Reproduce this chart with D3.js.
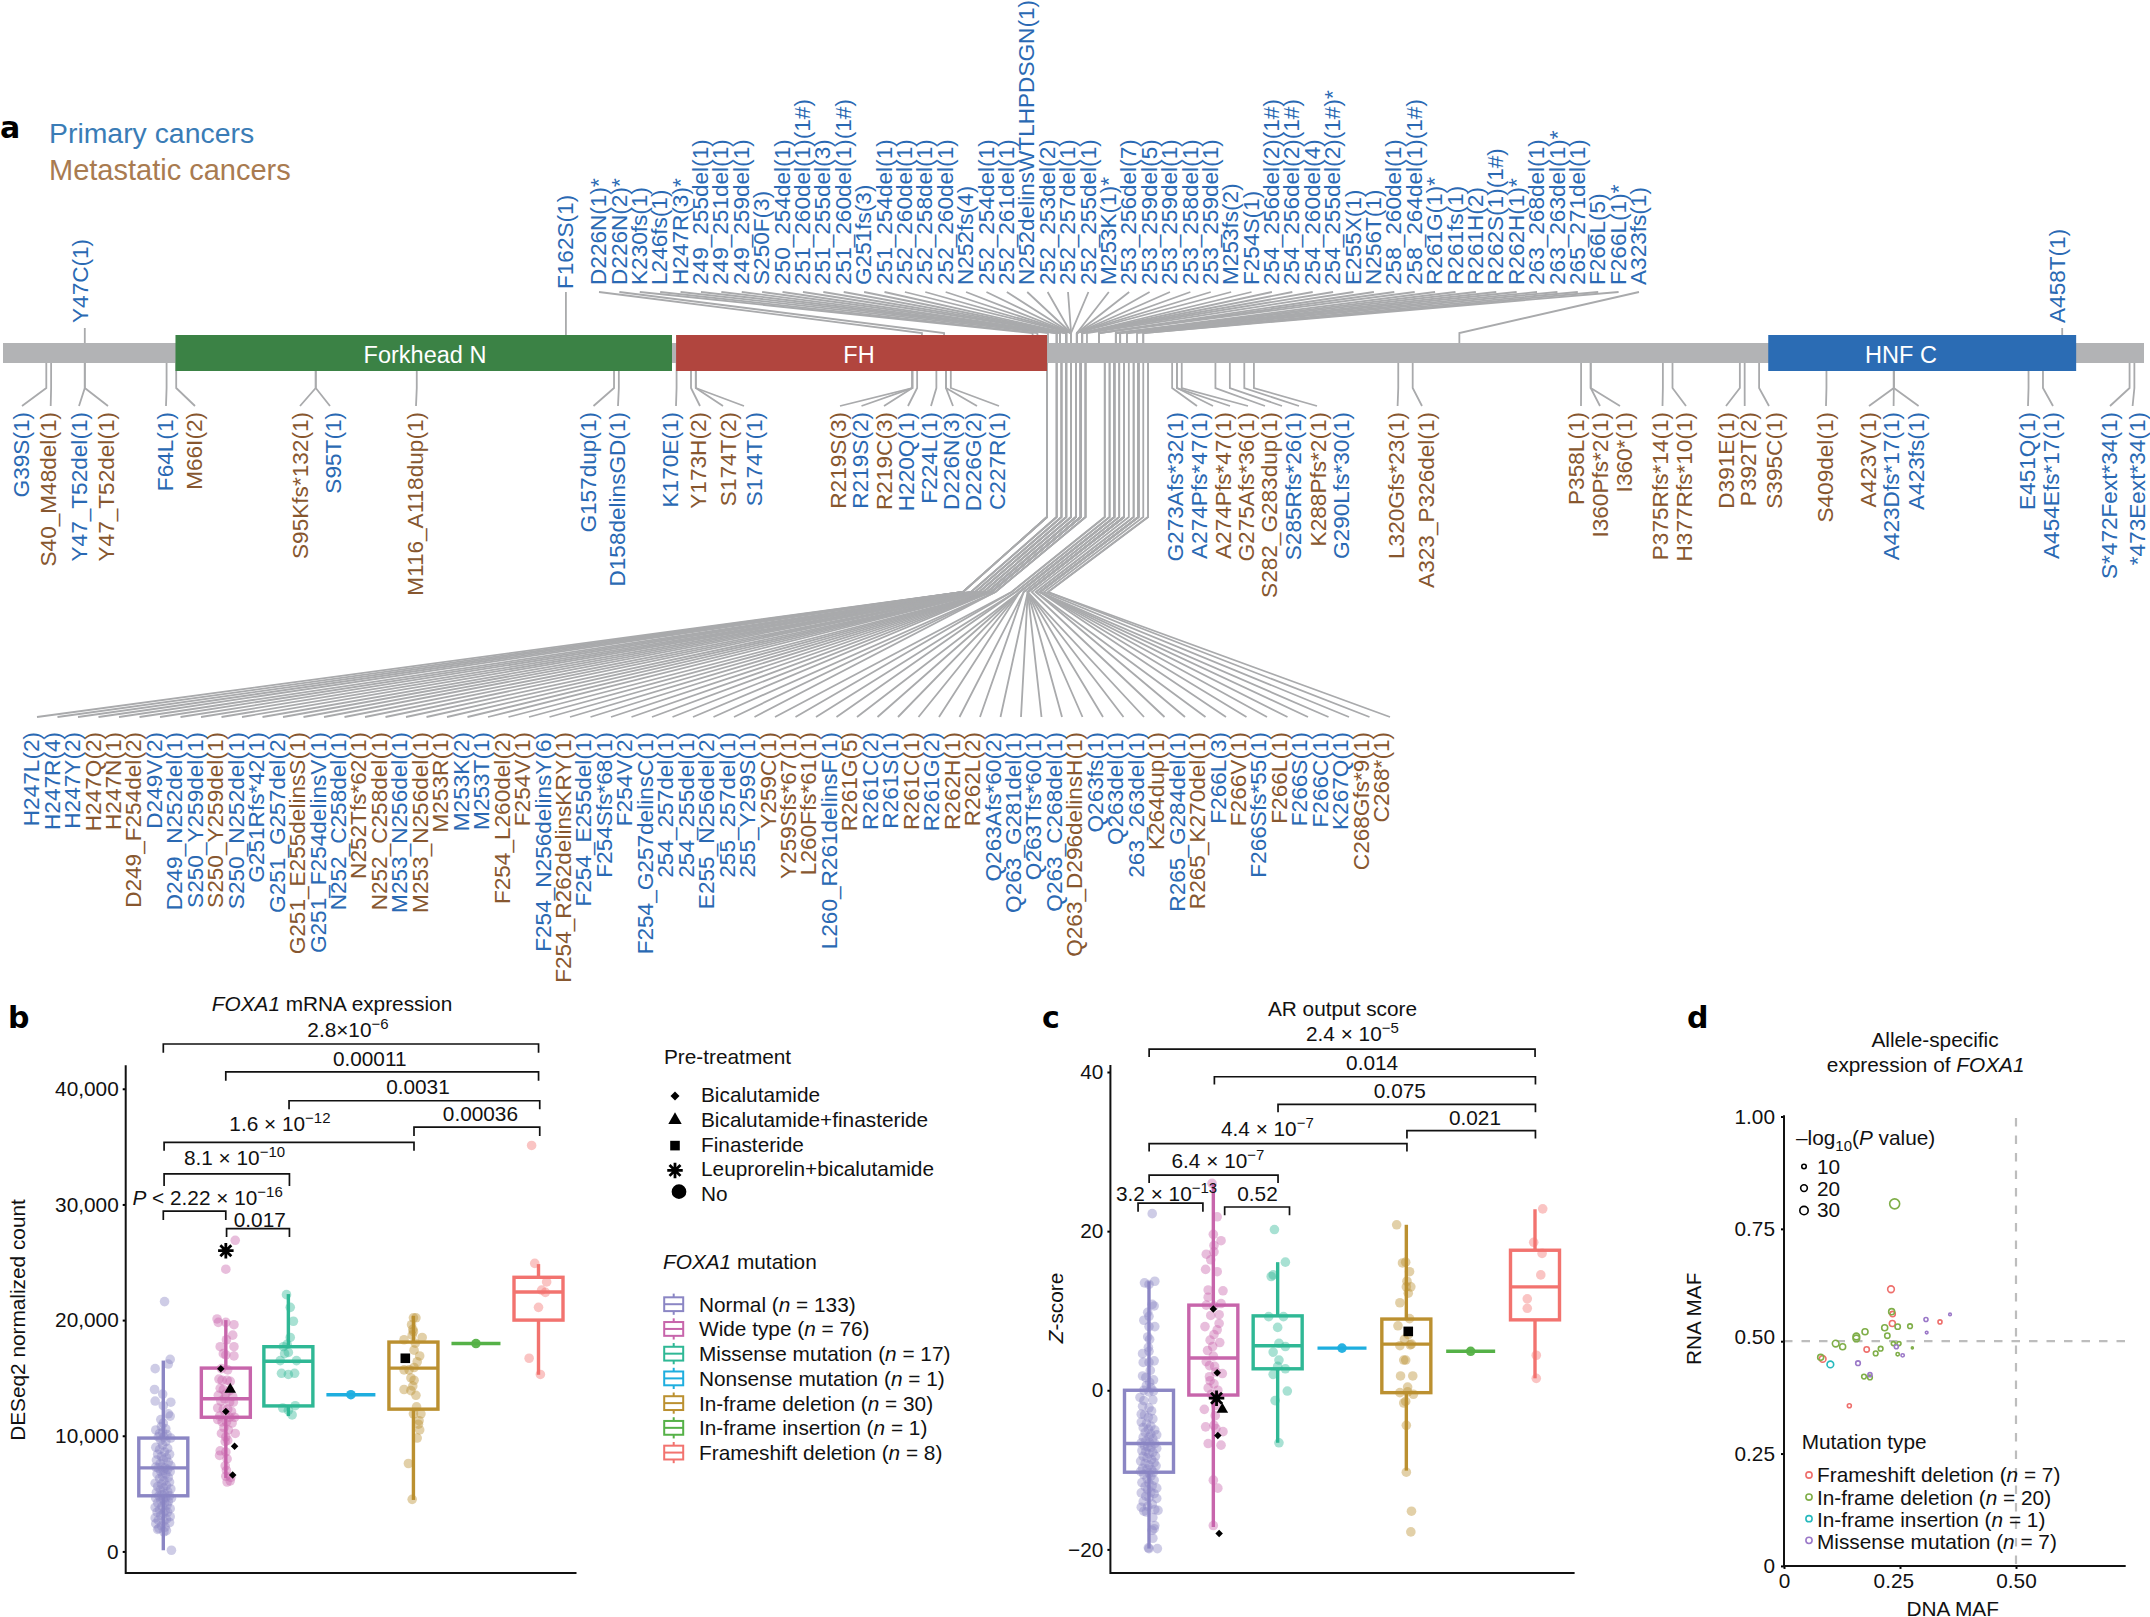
<!DOCTYPE html>
<html><head><meta charset="utf-8">
<script src="https://cdn.jsdelivr.net/npm/d3@7"></script>
<style>
html,body{margin:0;padding:0;background:#fff}
svg{display:block}
text{font-family:"Liberation Sans",Arial,sans-serif;fill:#111}
</style></head><body>
<svg id="c" width="2150" height="1617"></svg>
<script>
// ---------- DATA ----------
// Panel a: mutation name, cohort (p primary / m metastatic), drawn residue on the protein track
const topNames=["D226N(1)*","D226N(2)*","K230fs(1)","L246fs(1)","H247R(3)*","249_255del(1)","249_251del(1)","249_259del(1)","S250F(3)","250_254del(1)","251_260del(1)(1#)","251_255del(3)","251_260del(1)(1#)","G251fs(3)","251_254del(1)","252_260del(1)","252_258del(1)","252_260del(1)","N252fs(4)","252_254del(1)","252_261del(1)","N252delinsWTLHPDSGN(1)","252_253del(2)","252_257del(1)","252_255del(1)","M253K(1)*","253_256del(7)","253_259del(5)","253_259del(1)","253_258del(1)","253_259del(1)","M253fs(2)","F254S(1)","254_256del(2)(1#)","254_256del(2)(1#)","254_260del(4)","254_255del(2)(1#)*","E255X(1)","N256T(1)","258_260del(1)","258_264del(1)(1#)","R261G(1)*","R261fs(1)","R261H(2)","R262S(1)(1#)","R262H(1)*","263_268del(1)","263_263del(1)*","265_271del(1)","F266L(5)","F266L(1)*","A323fs(1)"];
const topSites=[221,225.6,244,245,247.2,249,249,249,249.7,249.7,251,251,251,251,251,252,252,252,252,252,252,252,252,252,252,253.2,253.2,253.2,253.2,253.2,253.2,253.2,254.3,254.3,254.3,254.3,254.3,255.3,257.8,257.8,257.8,261.3,261.3,261.3,262.2,262.2,263.6,263.6,265.7,267,267,332.7];
const singleNames=["Y47C(1)","F162S(1)","A458T(1)"];
const singleSites=[47,147,458];
const sideNames=["G39S(1)","S40_M48del(1)","Y47_T52del(1)","Y47_T52del(1)","F64L(1)","M66I(2)","S95Kfs*132(1)","S95T(1)","M116_A118dup(1)","G157dup(1)","D158delinsGD(1)","K170E(1)","Y173H(2)","S174T(2)","S174T(1)","R219S(3)","R219S(2)","R219C(3)","H220Q(1)","F224L(1)","D226N(3)","D226G(2)","C227R(1)","G273Afs*32(1)","A274Pfs*47(1)","A274Pfs*47(1)","G275Afs*36(1)","S282_G283dup(1)","S285Rfs*26(1)","K288Pfs*2(1)","G290Lfs*30(1)","L320Gfs*23(1)","A323_P326del(1)","P358L(1)","I360Pfs*2(1)","I360*(1)","P375Rfs*14(1)","H377Rfs*10(1)","D391E(1)","P392T(2)","S395C(1)","S409del(1)","A423V(1)","A423Dfs*17(1)","A423fs(1)","E451Q(1)","A454Efs*17(1)","S*472Fext*34(1)","*473Eext*34(1)"];
const sideCohort=("pmpmpmmpmp"+"ppmmpmpmpp"+"pppppmmmpm"+"pmmmmmmmmm"+"mmmpppppp").split("");
const sideSites=[39,40,47,47,64,66,95,95,116,157,158,170,173,174,174,219,219,219,220,224,226,226,227,273,274,274,275,282,285,288,290,320,323,358,360,360,375,377,391,392,395,409,423,423,423,451,454,472,473];
const fanNames=["H247L(2)","H247R(4)","H247Y(2)","H247Q(2)","H247N(1)","D249_F254del(2)","D249V(2)","D249_N252del(1)","S250_Y259del(1)","S250_Y259del(1)","S250_N252del(1)","G251Rfs*42(1)","G251_G257del(2)","G251_E255delinsS(1)","G251_F254delinsV(1)","N252_C258del(1)","N252Tfs*62(1)","N252_C258del(1)","M253_N256del(1)","M253_N256del(1)","M253R(1)","M253K(2)","M253T(1)","F254_L260del(2)","F254V(1)","F254_N256delinsY(6)","F254_R262delinsKRY(1)","F254_E255del(1)","F254Sfs*68(1)","F254V(2)","F254_G257delinsC(1)","254_257del(1)","254_255del(1)","E255_N256del(2)","255_257del(1)","255_Y259S(1)","Y259C(1)","Y259Sfs*67(1)","L260Ffs*61(1)","L260_R261delinsF(1)","R261G(5)","R261C(2)","R261S(1)","R261C(1)","R261G(2)","R262H(1)","R262L(2)","Q263Afs*60(2)","Q263_G281del(1)","Q263Tfs*60(1)","Q263_C268del(1)","Q263_D296delinsH(1)","Q263fs(1)","Q263del(1)","263_263del(1)","K264dup(1)","R265_G284del(1)","R265_K270del(1)","F266L(3)","F266V(1)","F266Sfs*55(1)","F266L(1)","F266S(1)","F266C(1)","K267Q(1)","C268Gfs*9(1)","C268*(1)"];
const fanCohort=("pppmmmpppm"+"pppmppmmpm"+"mppmmpmppp"+"ppppppmmmp"+"mppmpmmppp"+"pmpppmpmpm"+"pmpppmm").split("");
const fanSites=[247,247,247,247,247,249,249,249,250,250,250,251,251,251,251,252,252,252,253,253,253,253,253,254,254,254,254,254,254,254,254,254,254,255,255,255,259,259,260,260,261,261,261,261,261,262,262,263,263,263,263,263,263,263,263,264,265,265,266,266,266,266,266,266,267,268,268];
const domainNames=["Forkhead N","FH","HNF C"];
const domainStart=[65.85,169.9,396.9];
const domainEnd=[169.05,247,460.9];

// Panels b, c
const mutCats=["Normal","Wide type","Missense mutation","Nonsense mutation","In-frame deletion","In-frame insertion","Frameshift deletion"];
const mutN=[133,76,17,1,30,1,8];
const bLow=[0.1,6.35,11.7,13.55,4.45,17.97,15.27];
const bQ1=[4.81,11.6,12.58,13.55,12.3,17.97,20.0];
const bMed=[7.22,13.2,16.44,13.55,15.85,17.97,22.43];
const bQ3=[9.8,15.85,17.7,13.55,18.1,17.97,23.7];
const bHigh=[16.5,20.0,22.25,13.55,20.37,17.97,24.84];
const cLow=[-19.9,-17.2,-6.6,5.3,-10.1,4.9,1.5];
const cQ1=[-10.3,-0.6,2.7,5.3,-0.3,4.9,8.85];
const cMed=[-6.7,4.05,5.6,5.3,5.8,4.9,13.0];
const cQ3=[0,10.7,9.35,5.3,8.95,4.9,17.6];
const cHigh=[13.7,26,16.1,5.3,20.8,4.9,22.75];
// each sample: [jitter in % of the category step, value]
const bNormal=[[2,21.6],[11,16.6],[8,16.2],[-13,15.8],[-14,14.0],[-1,13.6],[-13,13.0],[12,12.9],[0,12.6],[8,11.9],[11,11.7],[-4,11.4],[0,11.1],[-3,10.8],[-12,10.5],[4,10.6],[-6,10.2],[-1,10.3],[6,10.1],[-8,9.9],[1,9.9],[12,9.8],[-4,9.6],[4,9.5],[-1,9.2],[-12,9.0],[7,8.9],[-6,8.8],[2,8.6],[-9,8.4],[10,8.4],[-3,8.2],[5,8.1],[-11,7.9],[0,7.9],[8,7.7],[-5,7.6],[12,7.4],[-12,7.3],[-2,7.3],[3,7.2],[-8,7.2],[7,7.1],[0,7.0],[-4,6.9],[11,6.9],[-10,6.7],[4,6.7],[-1,6.5],[8,6.4],[-6,6.3],[1,6.1],[10,6.0],[-13,5.9],[-3,5.8],[5,5.7],[-9,5.6],[0,5.5],[12,5.4],[-5,5.3],[7,5.2],[-11,5.1],[2,5.0],[-2,4.9],[10,4.8],[-7,4.8],[4,4.7],[-12,4.6],[0,4.5],[13,4.6],[-4,4.4],[8,4.3],[-9,4.2],[2,4.2],[6,4.0],[-2,3.9],[-13,3.8],[11,3.7],[-6,3.6],[3,3.5],[-10,3.4],[7,3.4],[0,3.3],[-4,3.1],[11,3.0],[-13,2.9],[5,2.8],[-8,2.7],[1,2.6],[10,2.5],[-12,2.4],[-3,2.2],[3,2.1],[-7,2.0],[1,1.7],[-9,1.9],[5,1.8],[13,0.1]];
const bWild=[[15,26.9],[0,24.4],[-14,20.1],[-12,19.8],[0,19.8],[13,19.6],[11,18.7],[-9,17.7],[1,18.3],[13,17.7],[-4,17.1],[13,16.9],[0,17.0],[-7,15.8],[3,15.7],[-11,14.9],[-6,14.8],[2,14.8],[7,14.7],[-9,14.1],[-4,14.0],[6,13.9],[-12,13.5],[0,13.6],[11,13.4],[-8,13.0],[-2,13.2],[6,12.9],[12,12.9],[-13,12.4],[-4,12.3],[3,12.3],[9,12.1],[-10,11.7],[-1,11.8],[6,11.6],[14,11.6],[-13,11.4],[-6,11.2],[1,11.2],[10,11.1],[-3,10.7],[4,10.5],[-7,10.2],[0,9.9],[15,10.2],[-1,9.5],[3,9.6],[-9,8.7],[-10,8.3],[0,8.6],[2,8.0],[-1,7.4],[1,7.0],[0,6.5],[8,6.4],[7,6.1],[2,6.0]];
const bMissense=[[-3,22.2],[3,21.1],[8,19.9],[3,18.5],[-8,17.7],[-2,17.9],[0,17.2],[-6,17.1],[-13,16.5],[13,16.5],[-11,15.4],[0,15.3],[10,15.4],[11,12.6],[-9,12.4],[0,12.2],[6,11.8]];
const bNonsense=[[0,13.55]];
const bDeletion=[[0,20.2],[4,20.2],[-3,19.6],[0,19.0],[-1,19.2],[14,18.5],[-15,18.3],[1,17.4],[10,16.9],[6,16.4],[-15,15.7],[1,15.9],[-7,15.7],[1,14.8],[-15,14.0],[-4,13.9],[4,13.5],[12,11.9],[0,11.9],[9,11.3],[8,11.0],[10,10.5],[6,9.8],[-8,7.6],[-2,4.5],[-2,18.7],[3,18.0],[-4,15.0],[-1,14.3],[5,12.5]];
const bInsertion=[[0,17.97]];
const bFrameshift=[[-11,35.1],[-6,24.9],[13,23.3],[5,22.6],[11,22.4],[0,21.1],[-15,16.7],[3,15.3]];
const cNormal=[[5,22.2],[9,13.7],[-7,13.5],[0,13.3],[5,10.8],[8,10.6],[-2,9.8],[0,9.3],[-8,8.8],[9,8.0],[0,8.0],[-2,6.7],[1,6.4],[-1,5.4],[-10,4.6],[0,4.9],[8,3.7],[-9,3.5],[0,3.5],[2,2.5],[-10,1.8],[-5,1.6],[7,1.3],[1,1.0],[-4,0.6],[3,0.3],[-8,0.0],[0,-0.2],[7,-0.1],[-14,-0.9],[-8,-1.3],[6,-1.2],[-10,-2.0],[0,-2.2],[4,-2.6],[-12,-3.0],[-7,-3.1],[-1,-3.4],[6,-3.6],[-12,-4.0],[-4,-4.2],[3,-4.5],[-9,-4.7],[-1,-4.9],[9,-5.0],[-6,-5.3],[3,-5.5],[12,-5.6],[-9,-5.9],[0,-5.9],[6,-6.1],[-5,-6.4],[-12,-6.6],[1,-6.6],[9,-6.7],[-7,-7.0],[-2,-7.1],[3,-7.2],[12,-7.3],[-11,-7.6],[-5,-7.7],[6,-7.8],[0,-8.0],[-9,-8.3],[10,-8.3],[-3,-8.5],[4,-8.7],[-13,-8.9],[8,-9.1],[-6,-9.2],[0,-9.4],[11,-9.5],[-10,-9.8],[-3,-9.9],[4,-10.0],[-13,-10.2],[7,-10.3],[0,-10.4],[-8,-10.6],[3,-10.8],[-3,-11.1],[8,-11.3],[-11,-11.6],[0,-11.7],[5,-12.0],[-6,-12.1],[12,-12.3],[-2,-12.5],[3,-12.8],[-12,-12.9],[8,-13.0],[-5,-13.3],[0,-13.5],[12,-13.6],[-9,-14.0],[5,-14.3],[-2,-14.6],[-12,-14.7],[9,-15.0],[-8,-15.2],[14,-15.1],[-4,-15.3],[6,-16.0],[9,-17.0],[5,-17.6],[8,-17.4],[6,-18.6],[0,-19.9],[13,-19.9],[-1,-19.8]];
const cWild=[[-2,26.0],[6,21.8],[0,19.6],[12,18.8],[1,18.2],[-11,17.1],[1,17.4],[-4,16.4],[-12,15.2],[6,14.9],[-8,12.6],[15,12.5],[-8,11.7],[-11,10.7],[12,10.9],[1,10.6],[9,9.5],[9,8.4],[-13,8.0],[1,7.0],[-5,6.3],[10,6.0],[-1,5.5],[0,4.3],[-11,3.6],[-6,3.1],[4,2.3],[-6,1.7],[14,2.1],[1,0.8],[-8,0.3],[-14,-2.4],[4,-1.9],[-12,-4.6],[1,-4.4],[15,-5.2],[4,-4.8],[-8,-6.7],[12,-6.9],[0,-11.3],[7,-12.3],[0,-17],[-4,9.4],[6,7.6],[-9,5.0],[7,0.0],[-3,-0.5],[3,-3.2],[-5,1.2],[2,3.0]];
const cMissense=[[-5,20.2],[12,16.1],[-7,14.5],[-10,14.3],[-14,9.25],[9,9.25],[0,7.9],[2,5.9],[12,5.5],[-7,4.8],[2,3.8],[0,3.0],[12,2.7],[-7,2.0],[15,-0.1],[-4,-1.3],[2,-6.6]];
const cNonsense=[[0,5.3]];
const cDeletion=[[-15,20.8],[-6,16.0],[-1,16.1],[5,14.9],[1,13.7],[7,13.0],[-10,11.0],[5,9.0],[-13,8.1],[3,7.0],[-10,5.6],[8,5.8],[-4,3.8],[-1,3.8],[-9,1.8],[10,1.8],[2,0.4],[-10,-0.3],[11,-0.5],[-4,-1.6],[-1,-1.4],[0,-4.4],[0,-10.3],[8,-15.2],[7,-17.8],[3,12.2],[0,13.0],[-3,6.4],[6,5.7],[2,-0.2]];
const cInsertion=[[0,4.9]];
const cFrameshift=[[12,22.8],[-2,18.6],[11,17.2],[9,14.5],[-12,11.5],[-12,10.3],[2,4.4],[2,1.5]];
// pre-treatment samples: [category index, jitter %, value, treatment]
const treatNames=["Bicalutamide","Bicalutamide+finasteride","Finasteride","Leuprorelin+bicalutamide","No"];
const bTreated=[[1,-8,15.8,0],[1,0,12.1,0],[1,14,9.1,0],[1,11,6.6,0],[1,7,14.0,1],[1,0,26.0,3],[4,-13,16.7,2]];
const cTreated=[[1,0,10.2,0],[1,6,2.2,0],[1,7,-5.7,0],[1,9,-18,0],[1,5,-1,3],[1,14,-2.4,1],[4,3,7.4,2]];
const bBracketText=["2.8×10^{−6}","0.00011","0.0031","0.00036","1.6 × 10^{−12}","8.1 × 10^{−10}","<i>P</i> < 2.22 × 10^{−16}","0.017"];
const cBracketText=["2.4 × 10^{−5}","0.014","0.075","0.021","4.4 × 10^{−7}","6.4 × 10^{−7}","3.2 × 10^{−13}","0.52"];

// Panel d: DNA MAF, RNA MAF, -log10 P
const frameshiftD=[.2306,.2342,.2335,.3362,.1782,.0833,.1408];
const frameshiftR=[.6156,.5604,.5394,.5429,.4816,.4606,.3564];
const frameshiftP=[15.7,10,12.8,5.7,10,15.7,5.7];
const deletionD=[.2385,.232,.245,.217,.2716,.2227,.1746,.1559,.1559,.1114,.1264,.2356,.2478,.2083,.1976,.245,.2766,.079,.1724,.1853];
const deletionR=[.8056,.5657,.5324,.5298,.5333,.5123,.521,.5105,.5061,.4947,.4877,.4947,.4947,.4834,.4729,.4711,.4851,.4641,.4212,.4194];
const deletionP=[35.4,12.8,10,12.8,7.7,10,12.8,15.7,15.7,15.7,12.8,5.7,5.7,7.7,7.7,4,1.4,12.8,7.7,7.7];
const insertionD=[.0999];const insertionR=[.4483];const insertionP=[15.7];
const missenseD=[.306,.3578,.3075,.2421,.2557,.1595,.1853];
const missenseR=[.5482,.5595,.5193,.4877,.4685,.451,.4256];
const missenseP=[5.7,2.5,2.5,5.7,4,7.7,5.7];
const dTypes=["Frameshift deletion","In-frame deletion","In-frame insertion","Missense mutation"];
const dCounts=[7,20,1,7];
const sizeLegend=[10,20,30];

// ---------- LAYOUT ----------
const BLUE="#2a69b3",BROWN="#87572f",LINE="#a9aaac",FS=20.8;
const sideLabelPx=[20.5,48,79,106,164.5,194,300,333,415,588,617,670,698,728,754,838,860,884,906,929,951,973,997,1175,1199,1223,1246,1269,1293,1318,1341,1396,1425.5,1576,1600,1624,1660,1684,1726,1748,1774,1825,1868,1891,1916,2027,2051,2109,2137];
const sideTipPx=[22,50.7,79,108,166,195,300,330,416,593.5,618,676,700,723,744,840,861.5,884,908,931,953,977,999,1197,1213,1230,1248,1265,1282,1299,1317,1397.6,1422,1581,1600,1620,1662.5,1686,1726,1744.7,1769,1826,1869,1893.6,1918.6,2028,2053,2110,2132.6];
const singleLabelPx=[80,565,2057];
const singleBase=[323,289,323];
const singleTop=[328,292,328];

const svg=d3.select("#c");
function rich(sel,s){
  const re=/<i>(.*?)<\/i>|\^\{(.*?)\}|_\{(.*?)\}|[^<^_]+|[<^_]/g;let m,shift=0;
  while((m=re.exec(s))){
    const t=sel.append("tspan");let dy=-shift;shift=0;
    if(m[1]!==undefined){t.text(m[1]).style("font-style","italic");}
    else if(m[2]!==undefined){t.text(m[2]).style("font-size","0.72em");shift=-8;dy+=-8;}
    else if(m[3]!==undefined){t.text(m[3]).style("font-size","0.72em");shift=6;dy+=6;}
    else t.text(m[0]);
    if(dy)t.attr("dy",dy);
  }
}
function label(x,y,s,o={}){
  const t=svg.append("text").attr("x",x).attr("y",y).style("font-size",(o.size||FS)+"px")
    .attr("text-anchor",o.anchor||"start");
  if(o.bold)t.style("font-weight","bold").style("font-family",'"DejaVu Sans",sans-serif');
  if(o.fill)t.style("fill",o.fill);
  if(o.rot)t.attr("transform",`rotate(-90 ${x} ${y})`);
  rich(t,s);return t;
}

// ---------- PANEL a ----------
const track=d3.scaleLinear().domain([30,475]).range([3,2144]);
const tg=svg.append("g").attr("fill","none").attr("stroke",LINE).attr("stroke-width",1.8);
const path=pts=>d3.line()(pts);
const vlabel=(x,y,s,col,anchor)=>svg.append("text").attr("transform",`translate(${x},${y}) rotate(-90)`)
  .attr("dy",".36em").attr("text-anchor",anchor).style("font-size","22.6px").style("fill",col).text(s);

// top leaders
const topLab=d3.scaleLinear().domain([0,topNames.length-1]).range([598,1638]);
topNames.forEach((n,i)=>{
  const sx=track(topSites[i]);
  tg.append("path").attr("d",path([[topLab(i)+1,292],[sx,333],[sx,350]]));
  vlabel(topLab(i),285,n,BLUE,"start");
});
singleNames.forEach((n,i)=>{
  const sx=track(singleSites[i]);
  tg.append("path").attr("d",path([[sx,singleTop[i]],[sx,350]]));
  vlabel(singleLabelPx[i],singleBase[i],n,BLUE,"start");
});
// bottom leaders next to the bar
sideNames.forEach((n,i)=>{
  const sx=track(sideSites[i]);
  tg.append("path").attr("d",path([[sx,355],[sx,388],[sideTipPx[i],406]]));
  vlabel(sideLabelPx[i],412,n,sideCohort[i]=="p"?BLUE:BROWN,"end");
});
// central fan
const fanLab=d3.scaleLinear().domain([0,fanNames.length-1]).range([31,1381]);
const fanTip=d3.scaleLinear().domain([0,fanNames.length-1]).range([37,1390]);
const fanHub=d3.scaleLinear().domain([247,268]).range([963,1048]);
fanNames.forEach((n,i)=>{
  const s=fanSites[i],sx=track(s);
  tg.append("path").attr("d",path([[sx,355],[sx,517],[fanHub(s),592],[fanTip(i),717]]));
  vlabel(fanLab(i),732,n,fanCohort[i]=="p"?BLUE:BROWN,"end");
});
// protein bar + domains
svg.append("rect").attr("x",track(30)).attr("y",343).attr("width",track(475)-track(30)).attr("height",20).attr("fill","#b2b3b5");
const domCol=["#3b8245","#b1453e","#2b6cb4"];
domainNames.forEach((n,i)=>{
  const a=track(domainStart[i]),b=track(domainEnd[i]);
  svg.append("rect").attr("x",a).attr("y",335).attr("width",b-a).attr("height",36).attr("fill",domCol[i]);
});
const domText=[425,859,1901];
domainNames.forEach((n,i)=>label(domText[i],363,n,{size:23.5,anchor:"middle",fill:"#fff"}));
label(49,143,"Primary cancers",{size:28.4,fill:"#3a7cb6"});
label(49,180,"Metastatic cancers",{size:29,fill:"#a97b50"});
label(0,138,"a",{size:30,bold:true,fill:"#000"});

// ---------- PANELS b / c ----------
const mutCol=["#8b86c4","#c765ab","#2fb895","#1eaedf","#bb9030","#55b147","#f2736f"];
const symAsterisk={draw(ctx,size){const r=Math.sqrt(size);
  for(let a=0;a<4;a++){const t=a*Math.PI/4,dx=r*Math.cos(t),dy=r*Math.sin(t);ctx.moveTo(-dx,-dy);ctx.lineTo(dx,dy);}}};
const symScale={0:[d3.symbolDiamond2,36,52],1:[d3.symbolTriangle,58,78],2:[d3.symbolSquare,92,92],4:[d3.symbolCircle,170,170]};
function mark(g,x,y,k,big){
  if(k==3){
    g.append("path").attr("d",d3.symbol().type(symAsterisk).size(60)()).attr("transform",`translate(${x},${y})`)
     .attr("fill","none").attr("stroke","#000").attr("stroke-width",2.8);
  } else {
    const [ty,s,s2]=symScale[k];
    g.append("path").attr("d",d3.symbol().type(ty).size(big?s2:s)()).attr("transform",`translate(${x},${y})`).attr("fill","#000");
  }
}
function boxPanel(o){
  const g=svg.append("g");
  const x=d3.scalePoint().domain(mutCats).range(o.xRange);
  const step=x.step();
  const y=d3.scaleLinear().domain(o.yDomain).range(o.yRange);
  const ax=d3.axisLeft(y).tickValues(o.ticks).tickFormat(o.fmt).tickSize(3).tickPadding(4);
  const axg=svg.append("g").attr("transform",`translate(${o.axisX},0)`).call(ax);
  axg.select(".domain").remove();
  axg.selectAll("line").attr("stroke","#000").attr("stroke-width",2);
  axg.selectAll("text").style("font-size",FS+"px").style("fill","#111");
  svg.append("path").attr("d",path([[o.axisX,o.axisTop],[o.axisX,o.axisBottom],[o.axisRight,o.axisBottom]])).attr("fill","none").attr("stroke","#111").attr("stroke-width",2);
  mutCats.forEach((c,i)=>{
    const cx=x(c),col=mutCol[i],hw=24.5;
    const gg=g.append("g").attr("stroke",col).attr("fill","none").attr("stroke-width",3.4);
    if(o.q3[i]===o.q1[i]){
      gg.append("line").attr("x1",cx-hw).attr("x2",cx+hw).attr("y1",y(o.med[i])).attr("y2",y(o.med[i]));
    } else {
      gg.append("line").attr("x1",cx).attr("x2",cx).attr("y1",y(o.high[i])).attr("y2",y(o.q3[i]));
      gg.append("line").attr("x1",cx).attr("x2",cx).attr("y1",y(o.q1[i])).attr("y2",y(o.low[i]));
      gg.append("rect").attr("x",cx-hw).attr("width",2*hw).attr("y",y(o.q3[i])).attr("height",y(o.q1[i])-y(o.q3[i]));
      gg.append("line").attr("x1",cx-hw).attr("x2",cx+hw).attr("y1",y(o.med[i])).attr("y2",y(o.med[i]));
    }
    g.selectAll(null).data(o.points[i]).enter().append("circle")
      .attr("cx",d=>cx+d[0]*step/100).attr("cy",d=>y(d[1])).attr("r",4.8)
      .attr("fill",col).attr("fill-opacity",o.points[i].length==1?0.95:0.42);
  });
  o.treated.forEach(d=>{
    const cx=x(mutCats[d[0]])+d[1]*step/100;
    mark(svg.append("g"),cx,y(d[2]),d[3]);
  });
  o.brackets.forEach((b,i)=>{
    svg.append("path").attr("d",path([[b[0],b[3]],[b[0],b[2]],[b[1],b[2]],[b[1],b[3]]])).attr("fill","none").attr("stroke","#111").attr("stroke-width",1.7);
    label(b[4],b[5],o.bracketText[i],{anchor:"middle"});
  });
}
const bz=v=>990+v/2.5008, bx=v=>v/2.529;
boxPanel({xRange:[163.3,538.5],yDomain:[0,40],yRange:[bz(1404),bz(247)],ticks:[0,10,20,30,40],fmt:d=>d3.format(",")(d*1000),
  axisX:125.7,axisTop:bz(188),axisBottom:bz(1458),axisRight:576.5,
  low:bLow,q1:bQ1,med:bMed,q3:bQ3,high:bHigh,
  points:[bNormal,bWild,bMissense,bNonsense,bDeletion,bInsertion,bFrameshift],treated:bTreated,bracketText:bBracketText,
  brackets:[[413,1362,135,157,880,117],[571,1362,205,227,935,190],[731,1365,277,298,1057,260],[1047,1365,343,365,1215,328],[415,1047,381,402,708,353],[415,732,460,490,593,438],[413,571,553,575,525,538],[573,732,597,618,657,592]]
    .map(b=>[bx(b[0]),bx(b[1]),bz(b[2]),bz(b[3]),bx(b[4]),bz(b[5])])});
const cz=v=>1000+v/2.541, cx_=v=>1040+v/2.529;
boxPanel({xRange:[1149,1535],yDomain:[-20,40],yRange:[cz(1396),cz(183)],ticks:[-20,0,20,40],fmt:d=>d<0?"−"+(-d):""+d,
  axisX:1110.4,axisTop:cz(165),axisBottom:cz(1456),axisRight:1574.6,
  low:cLow,q1:cQ1,med:cMed,q3:cQ3,high:cHigh,
  points:[cNormal,cWild,cMissense,cNonsense,cDeletion,cInsertion,cFrameshift],treated:cTreated,bracketText:cBracketText,
  brackets:[[276,1252,125,145,790,105],[441,1253,195,215,840,178],[602,1253,265,285,910,248],[928,1253,332,352,1100,318],[276,928,365,385,575,345],[276,602,445,465,450,428],[248,412,516,538,320,510],[467,631,526,547,550,510]]
    .map(b=>[cx_(b[0]),cx_(b[1]),cz(b[2]),cz(b[3]),cx_(b[4]),cz(b[5])])});
label(8,1028,"b",{size:30,bold:true,fill:"#000"});
label(332,1010.8,"<i>FOXA1</i> mRNA expression",{anchor:"middle"});
label(24.5,1320,"DESeq2 normalized count",{anchor:"middle",rot:true});
label(1042,1027.5,"c",{size:30,bold:true,fill:"#000"});
label(1342.5,1015.7,"AR output score",{anchor:"middle"});
label(1063,1308,"<i>Z</i>-score",{anchor:"middle",rot:true});

// legends b
const lz=v=>1000+v/2.541;
label(664,lz(163),"Pre-treatment");
const treatY=[244,305,370,433,487].map(lz),treatBase=[260,322,385,448,512].map(lz),treatX=[675,675,675,675,679];
treatNames.forEach((n,i)=>{mark(svg.append("g"),treatX[i],treatY[i],i,true);label(701,treatBase[i],n);});
label(663,lz(683),"<i>FOXA1</i> mutation");
mutCats.forEach((c,i)=>{
  const yc=d3.scaleLinear().domain([0,6]).range([lz(773),lz(1150)])(i),xc=673.7;
  const g=svg.append("g").attr("stroke",mutCol[i]).attr("fill","none").attr("stroke-width",2);
  g.append("line").attr("x1",xc).attr("x2",xc).attr("y1",yc-10.6).attr("y2",yc+10.6);
  g.append("rect").attr("x",xc-9.5).attr("width",19).attr("y",yc-6.9).attr("height",13.8).attr("fill","#fff");
  g.append("line").attr("x1",xc-9.5).attr("x2",xc+9.5).attr("y1",yc).attr("y2",yc);
  label(699,yc+7.5,`${c} (<i>n</i> = ${mutN[i]})`);
});

// ---------- PANEL d ----------
const dx=d3.scaleLinear().domain([0,.5]).range([1784,2016]);
const dy=d3.scaleLinear().domain([0,1]).range([lz(1438),lz(296)]);
const dash=svg.append("g").attr("stroke","#bdbdbd").attr("stroke-width",2.2).attr("stroke-dasharray","8.5,9");
dash.append("line").attr("x1",dx(.5)).attr("x2",dx(.5)).attr("y1",lz(300)).attr("y2",dy(0));
dash.append("line").attr("x1",dx(0)).attr("x2",2125).attr("y1",dy(.5)).attr("y2",dy(.5));
const dyAxis=svg.append("g").attr("transform",`translate(${dx(0)},0)`).call(d3.axisLeft(dy).tickValues([0,.25,.5,.75,1]).tickFormat(d=>d==0?"0":d3.format(".2f")(d)).tickSize(3).tickPadding(6));
const dxAxis=svg.append("g").attr("transform",`translate(0,${dy(0)})`).call(d3.axisBottom(dx).tickValues([0,.25,.5]).tickFormat(d=>d==0?"0":d3.format(".2f")(d)).tickSize(3).tickPadding(4.4));
[dyAxis,dxAxis].forEach(a=>{a.select(".domain").remove();a.selectAll("line").attr("stroke","#000").attr("stroke-width",2);a.selectAll("text").style("font-size",FS+"px").style("fill","#111");});
dxAxis.selectAll("text").filter(d=>d==.25).attr("dx",-6.7);
dyAxis.selectAll("text").filter(d=>d==.5).attr("dy","0.1em");
svg.append("path").attr("d",path([[dx(0),lz(293)],[dx(0),dy(0)],[2125.7,dy(0)]])).attr("fill","none").attr("stroke","#111").attr("stroke-width",2);
const dCol=["#ee6f6c","#7fae48","#26b9bd","#9b78c8"];
const rS=d3.scaleSqrt().domain([0,30]).range([0,4.6]);
[[frameshiftD,frameshiftR,frameshiftP],[deletionD,deletionR,deletionP],[insertionD,insertionR,insertionP],[missenseD,missenseR,missenseP]].forEach((s,k)=>{
  s[0].forEach((v,i)=>svg.append("circle").attr("cx",dx(v)).attr("cy",dy(s[1][i])).attr("r",rS(s[2][i])).attr("fill","none").attr("stroke",dCol[k]).attr("stroke-width",1.6));
});
label(1687,lz(70),"d",{size:30,bold:true,fill:"#000"});
label(1935,lz(120),"Allele-specific",{anchor:"middle"});
label(1925.7,lz(183),"expression of <i>FOXA1</i>",{anchor:"middle"});
label(1701,lz(810),"RNA MAF",{anchor:"middle",rot:true});
label(1952.7,lz(1565),"DNA MAF",{anchor:"middle"});
label(1796,lz(368),"–log_{10}(<i>P</i> value)");
const szY=[423,478,535].map(lz),szB=[441,497,552].map(lz);
sizeLegend.forEach((v,i)=>{
  svg.append("circle").attr("cx",1804).attr("cy",szY[i]).attr("r",rS(v)-.4).attr("fill","none").attr("stroke","#000").attr("stroke-width",1.6);
  label(1817,szB[i],""+v);
});
label(1801.7,lz(1142),"Mutation type");
const tyY=[1207,1263,1318,1373].map(lz),tyB=[1226,1282,1338,1394].map(lz);
dTypes.forEach((n,i)=>{
  svg.append("circle").attr("cx",1809).attr("cy",tyY[i]).attr("r",3.1).attr("fill","none").attr("stroke",dCol[i]).attr("stroke-width",1.6);
  label(1817,tyB[i],`${n} (<i>n</i> = ${dCounts[i]})`);
});
</script>
</body></html>
